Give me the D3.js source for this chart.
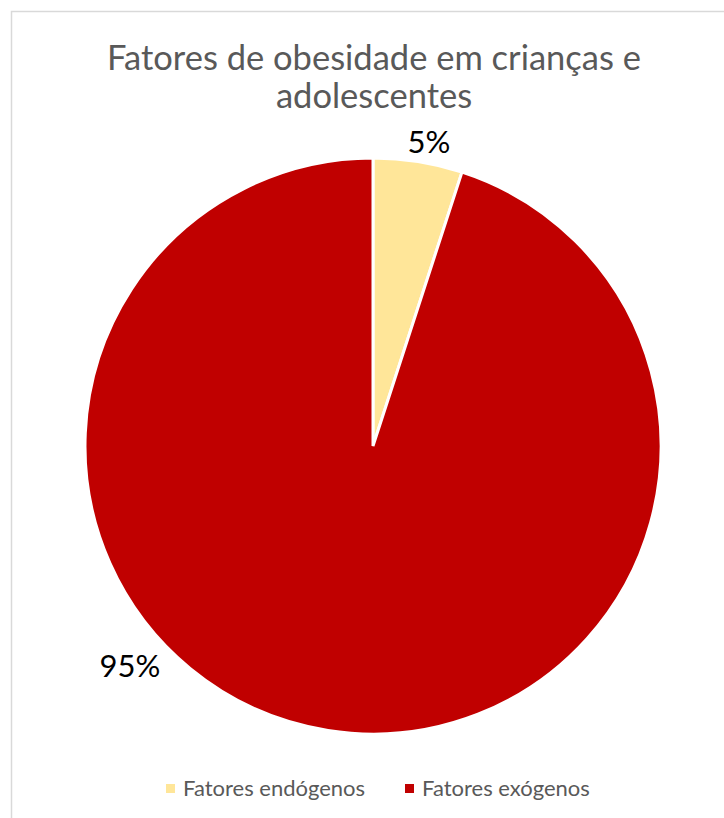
<!DOCTYPE html>
<html>
<head>
<meta charset="utf-8">
<script src="https://cdn.jsdelivr.net/npm/d3@7"></script>
<style>
  body { margin: 0; background: #fff; }
  svg { display: block; font-family: Lato, "Open Sans", sans-serif; }
</style>
</head>
<body>
<div id="chart"></div>
<script>
const categories = ['Fatores endógenos', 'Fatores exógenos'];
const values = [5, 95];
const colors = ['#FFE699', '#C00000'];
const titleLines = ['Fatores de obesidade em crianças e', 'adolescentes'];

const width = 724, height = 818;
const cx = 373, cy = 446, radius = 288;

const svg = d3.select('#chart').append('svg')
    .attr('width', width)
    .attr('height', height);

// chart area border (only top and left visible in the crop)
svg.append('rect')
    .attr('x', 11.5).attr('y', 11.5)
    .attr('width', width + 20).attr('height', height + 20)
    .attr('fill', 'none')
    .attr('stroke', '#d9d9d9')
    .attr('stroke-width', 1.5);

// Title
svg.append('text')
    .attr('text-anchor', 'middle')
    .attr('fill', '#595959')
    .style('font-size', '34.5px')
    .selectAll('tspan')
    .data(titleLines)
    .join('tspan')
    .attr('x', cx + 1)
    .attr('y', (d, i) => 70 + i * 38)
    .text(d => d);

const pie = d3.pie().sort(null).value(d => d);
const arcs = pie(values);
const arc = d3.arc().innerRadius(0).outerRadius(radius);

const g = svg.append('g').attr('transform', `translate(${cx},${cy})`);

g.selectAll('path')
    .data(arcs)
    .join('path')
    .attr('d', arc)
    .attr('fill', (d, i) => colors[i])
    .attr('stroke', '#fff')
    .attr('stroke-width', 3);

// data labels outside the rim
const total = d3.sum(values);
const labelPos = [[429, 153], [130, 677]];
g.selectAll('text.label')
    .data(arcs)
    .join('text')
    .attr('class', 'label')
    .attr('text-anchor', 'middle')
    .attr('x', (d, i) => labelPos[i][0] - cx)
    .attr('y', (d, i) => labelPos[i][1] - cy)
    .attr('fill', '#000')
    .style('font-size', '31px')
    .text(d => Math.round(d.value / total * 100) + '%');

// Legend
const legendX = [166, 405];
const legend = svg.append('g').selectAll('g')
    .data(categories)
    .join('g')
    .attr('transform', (d, i) => `translate(${legendX[i]},784)`);

legend.append('rect')
    .attr('width', 9).attr('height', 9)
    .attr('fill', (d, i) => colors[i]);

legend.append('text')
    .attr('x', 17)
    .attr('y', 12)
    .attr('fill', '#595959')
    .style('font-size', '22px')
    .text(d => d);
</script>
</body>
</html>
